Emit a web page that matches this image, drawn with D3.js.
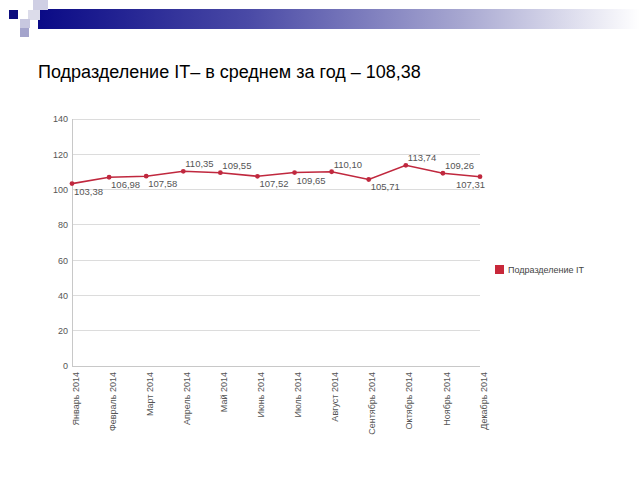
<!DOCTYPE html>
<html><head><meta charset="utf-8">
<script src="https://cdn.jsdelivr.net/npm/d3@7"></script>
<style>body{margin:0;background:#fff}svg{display:block}</style>
</head><body>
<svg id="c" width="640" height="480"></svg>
<script>
const months = ["Январь 2014","Февраль 2014","Март 2014","Апрель 2014","Май 2014","Июнь 2014","Июль 2014","Август 2014","Сентябрь 2014","Октябрь 2014","Ноябрь 2014","Декабрь 2014"];
const values = [103.38,106.98,107.58,110.35,109.55,107.52,109.65,110.10,105.71,113.74,109.26,107.31];
const labelAbove = [false,false,false,true,true,false,false,true,false,true,true,false];
const yTicks = [0,20,40,60,80,100,120,140];
const seriesName = "Подразделение IT";
const title = "Подразделение IT– в среднем за год – 108,38";

const svg = d3.select("#c");
const defs = svg.append("defs");
const g1 = defs.append("linearGradient").attr("id","hb").attr("x1","0").attr("x2","1").attr("y1","0").attr("y2","0");
g1.append("stop").attr("offset","0").attr("stop-color","#0a0a86");
g1.append("stop").attr("offset","0.35").attr("stop-color","#4a4aa6");
g1.append("stop").attr("offset","0.7").attr("stop-color","#a6a6d0");
g1.append("stop").attr("offset","1").attr("stop-color","#ffffff");

// header decoration
svg.append("rect").attr("x",38).attr("y",9).attr("width",602).attr("height",20).attr("fill","url(#hb)");
svg.append("rect").attr("x",33).attr("y",0).attr("width",15).attr("height",10).attr("fill","#cfcfe4");
svg.append("rect").attr("x",28).attr("y",10).attr("width",12).attr("height",10).attr("fill","#dcdcea");
svg.append("rect").attr("x",9).attr("y",10).attr("width",9).attr("height",9).attr("fill","#0c0c7e");
svg.append("rect").attr("x",20).attr("y",19).attr("width",10).attr("height",9).attr("fill","#c8c8e0");
svg.append("rect").attr("x",20).attr("y",28).attr("width",9).attr("height",9).attr("fill","#a4a4cc");

svg.append("text").attr("x",38).attr("y",78).attr("font-family","Liberation Sans, Arial, sans-serif")
  .attr("font-size",18).attr("fill","#000").text(title);

const x = d3.scalePoint().domain(months).range([72,480]);
const y = d3.scaleLinear().domain([0,140]).range([366,119]);

const grid = svg.append("g");
grid.selectAll("line").data(yTicks).join("line")
  .attr("x1",72).attr("x2",480).attr("y1",d=>y(d)).attr("y2",d=>y(d))
  .attr("stroke",d=>d===0?"#c8c8c8":"#dcdcdc").attr("stroke-width",1).attr("shape-rendering","crispEdges");
svg.append("line").attr("x1",72).attr("x2",72).attr("y1",119).attr("y2",366)
  .attr("stroke","#c8c8c8").attr("shape-rendering","crispEdges");

const yAxis = svg.append("g").attr("transform","translate(72,0)")
  .call(d3.axisLeft(y).tickValues(yTicks).tickSize(0).tickPadding(4));
yAxis.select(".domain").remove();
yAxis.selectAll("text").attr("font-family","Liberation Sans, Arial, sans-serif").attr("font-size",9).attr("fill","#555");

const xAxis = svg.append("g").attr("transform","translate(0,366)")
  .call(d3.axisBottom(x).tickSize(0).tickPadding(0));
xAxis.select(".domain").remove();
xAxis.selectAll("text").attr("font-family","Liberation Sans Narrow, Arial Narrow, sans-serif").attr("font-size",9).attr("fill","#555")
  .attr("text-anchor","end").attr("dy","0.35em").attr("transform","translate(3,6) rotate(-90)").attr("x",0).attr("y",0);

const data = months.map((m,i)=>({m,v:values[i],up:labelAbove[i],i}));
svg.append("path").datum(data)
  .attr("d",d3.line().x(d=>x(d.m)).y(d=>y(d.v)))
  .attr("fill","none").attr("stroke","#c0283e").attr("stroke-width",1.6);
svg.selectAll("circle.pt").data(data).join("circle").attr("class","pt")
  .attr("cx",d=>x(d.m)).attr("cy",d=>y(d.v)).attr("r",2.4).attr("fill","#c0283e");
svg.selectAll("text.lbl").data(data).join("text").attr("class","lbl")
  .attr("x",d=>d.i===months.length-1 ? x(d.m)+5 : x(d.m)+2)
  .attr("text-anchor",d=>d.i===months.length-1?"end":"start")
  .attr("y",d=>d.up? y(d.v)-4 : y(d.v)+11)
  .attr("font-family","Liberation Sans, Arial, sans-serif").attr("font-size",9.5).attr("fill","#555")
  .text(d=>d3.format(".2f")(d.v).replace(".",","));

// legend
svg.append("rect").attr("x",495).attr("y",265).attr("width",9).attr("height",9).attr("fill","#c8283a");
svg.append("text").attr("x",508).attr("y",273).attr("font-family","Liberation Sans Narrow, Arial Narrow, sans-serif")
  .attr("font-size",9).attr("fill","#444").text(seriesName);
</script>
</body></html>
